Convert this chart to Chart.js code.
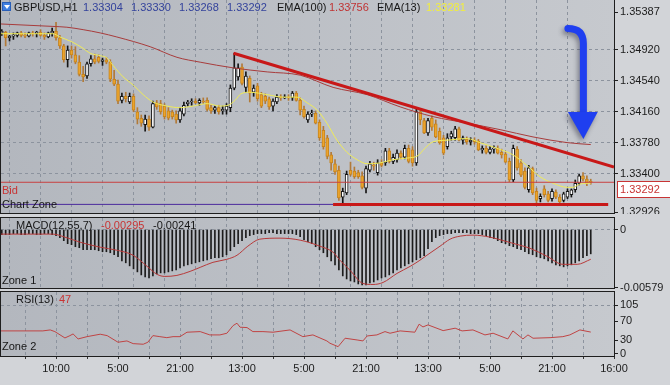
<!DOCTYPE html>
<html><head><meta charset="utf-8">
<script src="https://cdn.jsdelivr.net/npm/chart.js@4.4.0/dist/chart.umd.min.js"></script>
<style>
html,body{margin:0;padding:0}
body{width:670px;height:385px;position:relative;overflow:hidden;background:#d2d4d8;font-family:"Liberation Sans",Arial,sans-serif}
canvas{position:absolute;left:0}
.t{position:absolute;font-size:11px;line-height:12px;white-space:nowrap;color:#161616;z-index:5}
.icon{position:absolute;left:2px;top:2px;width:9px;height:9px;background:#3f7fe0;border:1px solid #2a5fb8;box-sizing:border-box;z-index:5}
.icon:after{content:"";position:absolute;left:1px;top:2px;border-left:3px solid transparent;border-right:3px solid transparent;border-top:4px solid #fff}
</style></head><body>
<canvas id="cMain" width="670" height="214" style="top:0"></canvas>
<canvas id="cMacd" width="670" height="82" style="top:214px"></canvas>
<canvas id="cRsi" width="670" height="97" style="top:288px"></canvas>

<div class="icon"></div>
<div class="t" style="left:14px;top:1px">GBPUSD,H1</div>
<div class="t" style="left:83px;top:1px;color:#34439c">1.33304</div>
<div class="t" style="left:131px;top:1px;color:#34439c">1.33330</div>
<div class="t" style="left:179px;top:1px;color:#34439c">1.33268</div>
<div class="t" style="left:227px;top:1px;color:#34439c">1.33292</div>
<div class="t" style="left:277px;top:1px">EMA(100)</div>
<div class="t" style="left:329px;top:1px;color:#c03434">1.33756</div>
<div class="t" style="left:377px;top:1px">EMA(13)</div>
<div class="t" style="left:426px;top:1px;color:#f2ee3c">1.33281</div>
<div class="t" style="left:2px;top:184px;color:#c83434">Bid</div>
<div class="t" style="left:2px;top:198px">Chart Zone</div>
<div class="t" style="left:16px;top:219px">MACD(12,55,7)</div>
<div class="t" style="left:101px;top:219px;color:#c83434">-0.00295</div>
<div class="t" style="left:153px;top:219px">-0.00241</div>
<div class="t" style="left:2px;top:274px">Zone 1</div>
<div class="t" style="left:16px;top:293px">RSI(13)</div>
<div class="t" style="left:59px;top:293px;color:#c83434">47</div>
<div class="t" style="left:2px;top:340px">Zone 2</div>

<script>
// ---------- data ----------
const firstHour = -6;
const open = [
1.3513,1.3514,1.3507,1.3509,1.3510,1.3513,
1.3510,1.3509,1.3513,1.3512,1.3514,1.3510,1.3508,1.3513,1.3515,1.3507,
1.3497,1.3480,1.3492,1.3486,1.3477,1.3462,1.3460,1.3475,1.3481,1.3483,
1.3478,1.3480,1.3477,1.3456,1.3450,1.3430,1.3435,1.3428,1.3435,1.3416,
1.3408,1.3400,1.3407,1.3397,1.3427,1.3426,1.3423,1.3417,1.3416,1.3413,
1.3406,1.3413,1.3426,1.3428,1.3429,1.3427,1.3429,1.3430,1.3421,1.3418,
1.3421,1.3417,1.3418,1.3421,1.3445,1.3459,1.3471,1.3446,1.3457,1.3440,
1.3448,1.3437,1.3435,1.3432,1.3423,1.3428,1.3434,1.3433,1.3434,1.3433,
1.3439,1.3430,1.3419,1.3406,1.3413,1.3414,1.3403,1.3393,1.3384,1.3363,
1.3352,1.3344,1.3311,1.3316,1.3344,1.3343,1.3341,1.3337,1.3322,1.3344,
1.3350,1.3341,1.3353,1.3353,1.3368,1.3355,1.3357,1.3365,1.3360,1.3371,
1.3369,1.3353,1.3416,1.3405,1.3390,1.3408,1.3401,1.3392,1.3384,1.3373,
1.3385,1.3384,1.3395,1.3381,1.3382,1.3379,1.3381,1.3380,1.3369,1.3371,
1.3366,1.3370,1.3371,1.3366,1.3364,1.3355,1.3332,1.3370,1.3353,1.3343,
1.3320,1.3346,1.3318,1.3309,1.3321,1.3315,1.3309,1.3317,1.3311,1.3307,
1.3311,1.3314,1.3320,1.3328,1.3337,1.3333,1.33304];
const high = [
1.3517,1.3515,1.3510,1.3513,1.3514,1.3515,
1.3513,1.3514,1.3515,1.3515,1.3517,1.3513,1.3514,1.3519,1.3526,1.3510,
1.3499,1.3497,1.3497,1.3496,1.3485,1.3472,1.3477,1.3485,1.3487,1.3486,
1.3482,1.3483,1.3480,1.3467,1.3455,1.3439,1.3440,1.3439,1.3438,1.3421,
1.3412,1.3412,1.3411,1.3429,1.3430,1.3430,1.3426,1.3421,1.3418,1.3417,
1.3421,1.3428,1.3430,1.3432,1.3432,1.3432,1.3433,1.3433,1.3424,1.3423,
1.3424,1.3423,1.3426,1.3449,1.3488,1.3475,1.3475,1.3465,1.3460,1.3449,
1.3451,1.3440,1.3438,1.3434,1.3432,1.3437,1.3437,1.3437,1.3437,1.3441,
1.3441,1.3433,1.3423,1.3416,1.3418,1.3417,1.3406,1.3398,1.3387,1.3366,
1.3357,1.3349,1.3322,1.3343,1.3354,1.3348,1.3344,1.3342,1.3349,1.3355,
1.3354,1.3357,1.3357,1.3371,1.3371,1.3364,1.3369,1.3368,1.3375,1.3375,
1.3373,1.3421,1.3419,1.3408,1.3408,1.3411,1.3406,1.3396,1.3387,1.3389,
1.3392,1.3398,1.3397,1.3386,1.3385,1.3384,1.3384,1.3382,1.3374,1.3374,
1.3373,1.3374,1.3374,1.3370,1.3366,1.3359,1.3375,1.3373,1.3357,1.3347,
1.3350,1.3348,1.3322,1.3315,1.3325,1.3318,1.3321,1.3320,1.3314,1.3317,
1.3321,1.3321,1.3332,1.3339,1.3341,1.3337,1.33330];
const low = [
1.3510,1.3497,1.3503,1.3505,1.3508,1.3508,
1.3507,1.3508,1.3509,1.3508,1.3509,1.3505,1.3507,1.3509,1.3504,1.3494,
1.3477,1.3471,1.3482,1.3475,1.3460,1.3453,1.3457,1.3472,1.3475,1.3476,
1.3473,1.3475,1.3453,1.3448,1.3426,1.3427,1.3428,1.3426,1.3416,1.3401,
1.3398,1.3392,1.3393,1.3396,1.3419,1.3413,1.3407,1.3406,1.3407,1.3402,
1.3403,1.3411,1.3423,1.3424,1.3426,1.3424,1.3426,1.3417,1.3414,1.3414,
1.3413,1.3413,1.3413,1.3416,1.3443,1.3455,1.3449,1.3440,1.3428,1.3435,
1.3429,1.3421,1.3426,1.3419,1.3417,1.3426,1.3430,1.3432,1.3430,1.3430,
1.3429,1.3412,1.3408,1.3403,1.3410,1.3401,1.3381,1.3370,1.3358,1.3344,
1.3339,1.3307,1.3304,1.3314,1.3337,1.3334,1.3334,1.3321,1.3316,1.3342,
1.3344,1.3338,1.3348,1.3350,1.3353,1.3352,1.3354,1.3358,1.3358,1.3353,
1.3349,1.3350,1.3400,1.3389,1.3387,1.3393,1.3384,1.3376,1.3363,1.3370,
1.3381,1.3381,1.3380,1.3376,1.3376,1.3375,1.3376,1.3368,1.3365,1.3364,
1.3364,1.3365,1.3364,1.3359,1.3353,1.3330,1.3330,1.3344,1.3336,1.3321,
1.3317,1.3314,1.3304,1.3305,1.3311,1.3305,1.3306,1.3309,1.3302,1.3305,
1.3309,1.3311,1.3317,1.3326,1.3331,1.3325,1.33268];
const close = [
1.3515,1.3507,1.3509,1.3510,1.3513,1.3510,
1.3509,1.3513,1.3512,1.3514,1.3510,1.3508,1.3513,1.3515,1.3507,1.3497,
1.3480,1.3492,1.3486,1.3477,1.3462,1.3459,1.3475,1.3481,1.3477,1.3478,
1.3480,1.3477,1.3456,1.3450,1.3429,1.3435,1.3432,1.3435,1.3418,1.3407,
1.3402,1.3407,1.3397,1.3426,1.3422,1.3416,1.3410,1.3408,1.3410,1.3406,
1.3417,1.3424,1.3428,1.3429,1.3427,1.3430,1.3428,1.3419,1.3417,1.3421,
1.3416,1.3419,1.3423,1.3445,1.3470,1.3470,1.3451,1.3460,1.3439,1.3445,
1.3432,1.3423,1.3429,1.3422,1.3429,1.3434,1.3433,1.3434,1.3433,1.3439,
1.3430,1.3418,1.3410,1.3413,1.3414,1.3402,1.3384,1.3373,1.3361,1.3353,
1.3342,1.3310,1.3318,1.3339,1.3339,1.3336,1.3336,1.3323,1.3346,1.3352,
1.3349,1.3353,1.3350,1.3368,1.3355,1.3360,1.3365,1.3360,1.3371,1.3355,
1.3353,1.3416,1.3406,1.3390,1.3405,1.3397,1.3385,1.3378,1.3365,1.3384,
1.3389,1.3395,1.3381,1.3384,1.3379,1.3381,1.3379,1.3369,1.3371,1.3366,
1.3370,1.3371,1.3365,1.3363,1.3354,1.3332,1.3371,1.3347,1.3338,1.3323,
1.3347,1.3316,1.3307,1.3312,1.3314,1.3307,1.3318,1.3311,1.3305,1.3315,
1.3318,1.3320,1.3328,1.3337,1.3333,1.3328,1.33292];

const emaSlowHours = [-6.2,7.2,10.8,15,19.4,23.7,32.3,39.2,45.2,53.7,62.5,71,79.5,88.3,96.8,105.3,114.1,122.6,131.1,139.9,146];
const emaSlowValues = [1.3524,1.3521,1.3520,1.3517,1.3513,1.3508,1.3496,1.3483,1.3477,1.3470,1.3465,1.3461,1.3446,1.3437,1.3422,1.3410,1.3402,1.3394,1.3385,1.3378,1.33756];
const emaFastHours = [-6.2,7.2,9,12.1,15,16.8,19.4,21.2,22.7,25.3,27.9,30.5,33,36.6,40,43.4,47,50.3,52.4,54.2,55.7,58,62.5,66.6,70.2,72.8,75.4,77.9,80.5,83.1,85.7,88.3,91.6,95,98.6,101.4,103,105.3,108.9,114.1,117.4,121.8,125.9,129.5,132.9,136.3,139.9,141.4,143.2,146];
const emaFastValues = [1.3512,1.3512,1.3508,1.3502,1.3494,1.3488,1.3485,1.3482,1.3473,1.3459,1.3449,1.3437,1.3428,1.3423,1.3421,1.3423,1.3426,1.3423,1.3424,1.3430,1.3438,1.3440,1.3437,1.3434,1.3434,1.3427,1.3418,1.3402,1.3381,1.3366,1.3357,1.3352,1.3353,1.3357,1.3359,1.3362,1.3370,1.3379,1.3381,1.3383,1.3378,1.3371,1.3363,1.3350,1.3336,1.3328,1.3323,1.3323,1.3327,1.33281];

const trendHours = [53.8, 152];
const trendPrices = [1.3488, 1.3348];
const supportHours = [79.5, 150.5];
const supportPrices = [1.3302, 1.3302];
const zoneHours = [-6.2, 79.5];
const zonePrices = [1.3302, 1.3302];
const bidPrice = 1.33292;

const macdHist = [
-0.0005,-0.0005,-0.0005,-0.0004,-0.0004,-0.0005,-0.0005,-0.0004,-0.0004,-0.0005,-0.0005,-0.0004,-0.0004,-0.0005,
-0.0006,-0.0008,-0.0011,-0.0014,-0.0015,-0.0017,-0.0018,-0.0020,-0.0020,-0.0020,-0.0020,-0.0021,-0.0022,-0.0022,
-0.0023,-0.0025,-0.0027,-0.0031,-0.0033,-0.0036,-0.0039,-0.0042,-0.0045,-0.0047,-0.0048,-0.0046,-0.0044,-0.0043,
-0.0043,-0.0042,-0.0041,-0.0040,-0.0038,-0.0036,-0.0035,-0.0034,-0.0033,-0.0032,-0.0031,-0.0030,-0.0029,-0.0028,
-0.0028,-0.0027,-0.0025,-0.0021,-0.0017,-0.0014,-0.0011,-0.0008,-0.0006,-0.0005,-0.0004,
-0.0004,-0.0004,-0.0003,-0.0003,-0.0004,-0.0004,-0.0004,-0.0004,-0.0004,
-0.0005,-0.0007,-0.0010,-0.0012,-0.0014,-0.0017,-0.0020,-0.0023,-0.0027,-0.0031,-0.0035,-0.0040,-0.0046,-0.0049,
-0.0051,-0.0052,-0.0054,-0.0055,-0.0055,-0.0053,-0.0052,-0.0050,-0.0048,-0.0047,-0.0045,-0.0043,-0.0040,-0.0038,
-0.0036,-0.0034,-0.0032,-0.0030,-0.0028,-0.0026,-0.0019,-0.0012,-0.0008,-0.0006,-0.0005,
-0.0004,-0.0004,-0.0003,-0.0003,-0.0003,-0.0003,-0.0004,-0.0004,-0.0004,-0.0005,
-0.0006,-0.0008,-0.0009,-0.0011,-0.0013,-0.0014,-0.0016,-0.0017,-0.0019,-0.0020,-0.0022,-0.0024,-0.0025,-0.0027,
-0.0028,-0.0029,-0.0031,-0.0033,-0.0035,-0.0036,-0.0037,-0.0036,-0.0035,-0.0033,-0.0031,-0.0028,-0.0026,-0.00241];
const signalHours = [-6.2,7.2,10.3,14.2,19.4,23.7,27.9,31.5,34.1,36.1,39.2,42.6,45.2,48.5,52.1,54.7,57.5,60.6,65.8,71,76.1,79.5,81.3,83.9,87.2,89.8,92.4,96,99.4,101.9,103.7,107.1,109.7,112.3,115.6,120,123.9,127.7,130.3,134.7,138.8,142.5,146];
const signalValues = [-0.00045,-0.00045,-0.00075,-0.00125,-0.00175,-0.00205,-0.00255,-0.00365,-0.00445,-0.00465,-0.00455,-0.00415,-0.00375,-0.00325,-0.00295,-0.00255,-0.00165,-0.00095,-0.00085,-0.00105,-0.00165,-0.00225,-0.00305,-0.00405,-0.00535,-0.00545,-0.00525,-0.00435,-0.00365,-0.00305,-0.00255,-0.00165,-0.00095,-0.00065,-0.00055,-0.00075,-0.00115,-0.00155,-0.00185,-0.00265,-0.00345,-0.00345,-0.00295];

const rsiHours = [-6.2,0,4.6,6.5,7.7,10.3,11.6,12.4,13.7,16,19.4,21.2,24,26.3,27.9,30.5,31.7,33,34.8,36.6,38.2,40,41.8,45.2,47.7,50.3,52.1,53.7,54.7,55.5,57.3,58.8,61.4,64,68.4,71.7,74.3,77.9,78.7,80.8,82.6,85.7,87.2,88.3,90.8,92.9,94.2,96.8,100.6,101.7,102.7,104,107.9,111,112.8,115.6,118.7,120.8,124.6,125.9,128.5,129.8,131.1,135.5,138.8,140.6,143.2,146];
const rsiValues = [49.5,49.5,49.5,51.6,48,34.4,39.4,43,32.3,37.2,42.4,39.4,25.2,28,22.2,20.9,25.2,39.4,37.2,35,37.2,37.2,46.7,48,40.9,40.9,44.5,60.9,66,57.4,56.6,48,48,46.7,51.6,37.2,40.9,28,23,15.7,33.8,30.1,28,38.7,40.9,48,44.5,49.5,46.7,63.9,58,62.4,50.1,55.3,49.5,51.6,40.9,44.5,32.3,49.5,32.3,40.9,33.8,35,37.2,40.9,51.6,47];

const priceTicks = [1.35387,1.34920,1.34540,1.34160,1.33780,1.33400,1.32926];
const macdTicks = [0, -0.00579];
const rsiTicks = [105, 70, 30, 0];
const gridHours = [0,8,16,24,32,40,48,56,64,72,80,88,96,104,112,120,128,136,144,152];
const timeLabelHours = [8,24,40,56,72,88,104,120,136,152];
const timeLabels = ['10:00','5:00','21:00','13:00','5:00','21:00','13:00','5:00','21:00','16:00'];

// arrow annotation, in data units
const arrow = {h0:140.1, p0:1.35184, hStem:144.1, pBend:1.3500, pStemEnd:1.34157, hHeadL:140.1, hHeadR:147.8, pTip:1.33824};

// ---------- helpers ----------
const FONT = '"Liberation Sans", Arial, sans-serif';
const X_MIN = -6.2, X_MAX = 152;
const GRID = '#8c939e';
const hours = open.map((_, i) => firstHour + i);
const isBull = i => close[i] >= open[i];
const pts = (xs, ys) => xs.map((x, i) => ({x, y: ys[i]}));

function xAxis(h, labels) {
  return {
    type: 'linear', min: X_MIN, max: X_MAX, offset: false,
    afterBuildTicks(s) { s.ticks = gridHours.map(v => ({value: v})); },
    afterFit(s) { s.height = h; s.paddingLeft = 0; s.paddingRight = 0; },
    ticks: { display: labels, autoSkip: false, maxRotation: 0, minRotation: 0, padding: 3,
      color: '#1c1c1c', font: {family: FONT, size: 11},
      callback(v) { const k = timeLabelHours.indexOf(v); return k < 0 ? '' : timeLabels[k]; } },
    grid: { color: c => (c.tick && c.tick.value === 152) ? 'rgba(0,0,0,0)' : GRID, lineWidth: 1,
      drawTicks: labels, tickLength: 3, tickColor: '#333', tickBorderDash: [] },
    border: { display: false, dash: [3, 3] }
  };
}
function yAxis(min, max, ticks, fmt, gridOn) {
  return {
    position: 'right', min, max,
    afterBuildTicks(s) { s.ticks = ticks.map(v => ({value: v})); },
    afterFit(s) { s.width = 56; s.paddingTop = 0; s.paddingBottom = 0; },
    ticks: { autoSkip: false, padding: 2, color: '#1c1c1c', font: {family: FONT, size: 11}, callback: v => fmt(v) },
    grid: { color: c => (c.tick && gridOn.includes(c.tick.value)) ? GRID : 'rgba(0,0,0,0)',
      drawTicks: true, tickLength: 4, tickColor: '#222', tickBorderDash: [] },
    border: { display: false, dash: [3, 3] }
  };
}
const bgPlugin = {
  id: 'bg',
  beforeDraw(chart) {
    const {ctx, chartArea: a} = chart;
    ctx.save();
    const g = ctx.createLinearGradient(a.left, 0, a.right, 0);
    g.addColorStop(0, '#b3b7be'); g.addColorStop(1, '#c6c9ce');
    ctx.fillStyle = g;
    ctx.fillRect(a.left, a.top, a.right - a.left, a.bottom - a.top);
    ctx.restore();
  },
  afterDraw(chart) {
    const {ctx, chartArea: a} = chart;
    ctx.save();
    ctx.strokeStyle = '#1e1e1e'; ctx.lineWidth = 1;
    ctx.strokeRect(Math.round(a.left) - 0.5, Math.round(a.top) - 0.5, Math.round(a.right - a.left) + 1, Math.round(a.bottom - a.top) + 1);
    ctx.restore();
  }
};
const mainOverlay = {
  id: 'mainOverlay',
  afterDatasetsDraw(chart) {
    const {ctx} = chart;
    const xs = chart.scales.x, ys = chart.scales.y;
    const X = h => xs.getPixelForValue(h), Y = p => ys.getPixelForValue(p);
    ctx.save();
    ctx.shadowColor = 'rgba(30,30,50,0.45)'; ctx.shadowBlur = 5; ctx.shadowOffsetX = -2; ctx.shadowOffsetY = 3;
    ctx.strokeStyle = '#1f3ff0'; ctx.fillStyle = '#1f3ff0';
    ctx.lineWidth = 7; ctx.lineCap = 'round';
    ctx.beginPath();
    ctx.moveTo(X(arrow.h0), Y(arrow.p0));
    ctx.quadraticCurveTo(X(arrow.hStem), Y(arrow.p0), X(arrow.hStem), Y(arrow.pBend));
    ctx.lineTo(X(arrow.hStem), Y(arrow.pStemEnd) + 2);
    ctx.stroke();
    ctx.beginPath();
    ctx.moveTo(X(arrow.hHeadL), Y(arrow.pStemEnd));
    ctx.lineTo(X(arrow.hHeadR), Y(arrow.pStemEnd));
    ctx.lineTo(X(arrow.hStem), Y(arrow.pTip));
    ctx.closePath(); ctx.fill();
    ctx.restore();
  },
  afterDraw(chart) {
    const {ctx} = chart;
    const ys = chart.scales.y;
    const y = Math.round(ys.getPixelForValue(bidPrice)) - 0.5;
    ctx.save();
    ctx.fillStyle = '#ffffff'; ctx.fillRect(617.5, y, 53, 16);
    ctx.strokeStyle = '#c83434'; ctx.lineWidth = 1; ctx.strokeRect(617.5, y, 60, 16);
    ctx.fillStyle = '#c83434'; ctx.font = '11px ' + FONT; ctx.textBaseline = 'middle';
    ctx.fillText(bidPrice.toFixed(5), 620, y + 8.5);
    ctx.restore();
  }
};

Chart.defaults.font.family = FONT;
const common = { responsive: false, animation: false, events: [],
  plugins: { legend: {display: false}, tooltip: {enabled: false} } };

// ---------- main price chart ----------
new Chart(document.getElementById('cMain'), {
  type: 'bar',
  data: { datasets: [
    { type: 'line', data: pts(trendHours, trendPrices), borderColor: '#c81818', borderWidth: 3, pointRadius: 0, order: 0 },
    { type: 'line', data: pts(supportHours, supportPrices), borderColor: '#c81818', borderWidth: 3, pointRadius: 0, order: 0 },
    { type: 'line', data: pts(zoneHours, zonePrices), borderColor: '#4b2a9c', borderWidth: 1, pointRadius: 0, order: 1 },
    { type: 'line', data: [{x: X_MIN, y: bidPrice}, {x: X_MAX, y: bidPrice}], borderColor: '#c84040', borderWidth: 1, pointRadius: 0, order: 1 },
    { type: 'line', data: pts(emaFastHours, emaFastValues), borderColor: '#f0ec58', borderWidth: 1, pointRadius: 0, cubicInterpolationMode: 'monotone', order: 2 },
    { type: 'line', data: pts(emaSlowHours, emaSlowValues), borderColor: '#a83c3c', borderWidth: 1, pointRadius: 0, cubicInterpolationMode: 'monotone', order: 3 },
    { type: 'bar', data: hours.map((h, i) => ({x: h, y: [open[i], close[i]]})), grouped: false, barThickness: 3, minBarLength: 1,
      backgroundColor: hours.map((_, i) => isBull(i) ? '#ffffff' : '#eca42c'),
      borderColor: hours.map((_, i) => isBull(i) ? '#151515' : '#c7841c'), borderWidth: 1, borderSkipped: false, order: 4 },
    { type: 'bar', data: hours.map((h, i) => ({x: h, y: [low[i], high[i]]})), grouped: false, barThickness: 1,
      backgroundColor: hours.map((_, i) => isBull(i) ? '#151515' : '#b27a38'), borderWidth: 0, order: 5 }
  ]},
  options: Object.assign({}, common, {
    layout: { padding: {left: 1, top: 0, right: 0, bottom: 0} },
    scales: {
      x: xAxis(1, false),
      y: yAxis(1.32914, 1.35535, priceTicks, v => v.toFixed(5), [1.34920,1.34540,1.34160,1.33780,1.33400])
    }
  }),
  plugins: [bgPlugin, mainOverlay]
});

// ---------- MACD ----------
new Chart(document.getElementById('cMacd'), {
  type: 'bar',
  data: { datasets: [
    { type: 'line', data: pts(signalHours, signalValues), borderColor: '#b83a3a', borderWidth: 1, pointRadius: 0, cubicInterpolationMode: 'monotone', order: 1 },
    { type: 'bar', data: hours.map((h, i) => ({x: h, y: macdHist[i]})), grouped: false, barThickness: 1, backgroundColor: '#1c1c1c', order: 2 }
  ]},
  options: Object.assign({}, common, {
    layout: { padding: {left: 1, top: 4, right: 0, bottom: 0} },
    scales: {
      x: xAxis(8, false),
      y: yAxis(-0.0058, 0.00115, macdTicks, v => v === 0 ? '0' : v.toFixed(5), [0])
    }
  }),
  plugins: [bgPlugin]
});

// ---------- RSI ----------
new Chart(document.getElementById('cRsi'), {
  type: 'line',
  data: { datasets: [
    { data: pts(rsiHours, rsiValues), borderColor: '#c04444', borderWidth: 1, pointRadius: 0, tension: 0 }
  ]},
  options: Object.assign({}, common, {
    layout: { padding: {left: 1, top: 4, right: 0, bottom: 0} },
    scales: {
      x: xAxis(29, true),
      y: yAxis(-4.3, 132.9, rsiTicks, v => String(v), [105])
    }
  }),
  plugins: [bgPlugin]
});
</script>
</body></html>
